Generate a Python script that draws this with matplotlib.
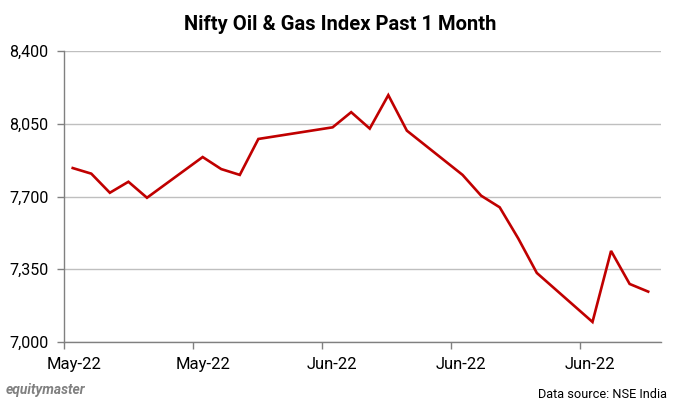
import matplotlib
matplotlib.use("Agg")
import matplotlib.pyplot as plt
import matplotlib.transforms as mtransforms
import numpy as np

# calendar-day offsets from 23 May 2022 (trading days)
days = [0, 1, 2, 3, 4, 7, 8, 9, 10, 14, 15, 16, 17, 18, 21, 22, 23, 24, 25, 28, 29, 30, 31]
values = [7837, 7810, 7718, 7771, 7694, 7890, 7832, 7804, 7977, 8033, 8106, 8027, 8188, 8017,
          7804, 7704, 7648, 7498, 7332, 7096, 7438, 7279, 7242]
x_labels = ["May-22", "May-22", "Jun-22", "Jun-22", "Jun-22"]
y_ticks = [7000, 7350, 7700, 8050, 8400]

plt.rcParams['font.family'] = ['Roboto', 'DejaVu Sans']

fig = plt.figure(figsize=(6.73, 4.09), dpi=100)
ax = fig.add_axes([64/673, 1-341.9/409, (661-64)/673, (341.9-51.1)/409])

ax.plot(days, values, color="#C00000", lw=1.9, solid_joinstyle="miter")

x0 = -0.47
x1 = 31.69
ax.set_xlim(x0, x1)
ax.set_ylim(7000, 8400)
ax.set_xticks([x0 + 6.95*i for i in range(len(x_labels))])
ax.set_xticklabels(x_labels)
ax.set_yticks(y_ticks)
ax.set_yticklabels([f"{v:,}" for v in y_ticks])

ax.grid(axis="y", color="#BFBFBF", lw=1.0)
ax.set_axisbelow(True)
for s in ["top", "right"]:
    ax.spines[s].set_visible(False)
for s in ["left", "bottom"]:
    ax.spines[s].set_color("#808080")
    ax.spines[s].set_linewidth(1.0)
ax.tick_params(axis="both", colors="#808080", length=5, width=1.0, labelcolor="black", labelsize=11.5)
ax.tick_params(axis="x", labelsize=12, pad=6)
ax.tick_params(axis="y", pad=6)

offset = mtransforms.ScaledTranslation(10/100, 0, fig.dpi_scale_trans)
for lab in ax.get_xticklabels():
    lab.set_transform(lab.get_transform() + offset)

fig.text(0.505, 1-25/409, "Nifty Oil & Gas Index Past 1 Month", ha="center", va="center",
         fontsize=14.5, fontweight="bold", color="black")
fig.text(6/673, 1-390/409, "equitymaster", ha="left", va="center", fontsize=10,
         fontstyle="italic", fontweight="bold", color="#808080")
fig.text(667/673, 1-394/409, "Data source: NSE India", ha="right", va="center", fontsize=9.2,
         color="black")

fig.savefig("out.png", dpi=100)
